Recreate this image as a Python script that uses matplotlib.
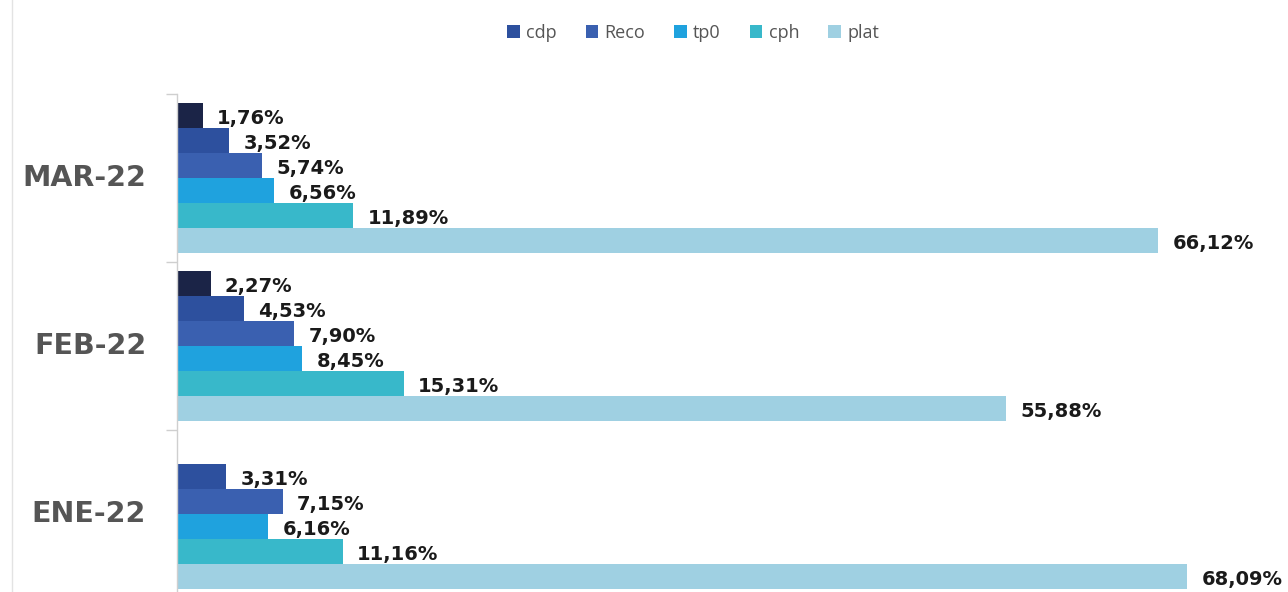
import matplotlib
matplotlib.use("Agg")
import matplotlib.pyplot as plt
from matplotlib.lines import Line2D
from matplotlib.patches import Patch
import numpy as np

categories = ["ENE-22", "FEB-22", "MAR-22"]
series_names = ["", "cdp", "Reco", "tp0", "cph", "plat"]
s_navy = [None, 2.27, 1.76]
s_cdp = [3.31, 4.53, 3.52]
s_reco = [7.15, 7.90, 5.74]
s_tp0 = [6.16, 8.45, 6.56]
s_cph = [11.16, 15.31, 11.89]
s_plat = [68.09, 55.88, 66.12]
series_values = [s_navy, s_cdp, s_reco, s_tp0, s_cph, s_plat]
colors = ["#1b2447", "#2d509e", "#3a60b0", "#1fa2de", "#38b8ca", "#9fd0e2"]

plt.rcParams['font.family'] = ['DejaVu Sans']

fig = plt.figure(figsize=(12.88, 5.92), dpi=100)
ax = fig.add_axes([177/1288, 0.0, (1277-177)/1288, (592-94)/592])

h = 25/168
y = np.arange(len(categories))
for k, (name, vals, c) in enumerate(zip(series_names, series_values, colors)):
    off = (2.5 - k) * h
    for i, v in enumerate(vals):
        if v is None:
            continue
        ax.barh(y[i] + off, v, height=h, color=c, edgecolor='none')
        ax.text(v + 0.95, y[i] + off - 0.02, f"{v:.2f}%".replace('.', ','),
                va='center', ha='left', fontsize=14, fontweight='bold',
                color='#1a1a1a')

ax.set_xlim(0, 1100/14.84)
ax.set_ylim(2.5 - (592-94)/168, 2.5)
ax.set_xticks([])
ax.set_yticks([0.5, 1.5, 2.5])
ax.set_yticklabels([])
ax.tick_params(axis='y', direction='out', length=8, color='#cfcfcf', width=1)
for yc, lab in zip(y, categories):
    ax.text(-0.028, yc, lab, transform=ax.get_yaxis_transform(), ha='right',
            va='center', fontsize=20.5, fontweight='bold', color='#555555')
for s in ['top', 'right', 'bottom']:
    ax.spines[s].set_visible(False)
ax.spines['left'].set_color('#cfcfcf')
ax.spines['left'].set_linewidth(1)

handles = [Patch(facecolor=c, edgecolor='none', label=n)
           for n, c in zip(series_names[1:], colors[1:])]
leg = fig.legend(handles=handles, loc='center', bbox_to_anchor=(693/1288, 1-33/592),
                 ncol=5, frameon=False, handlelength=0.7,
                 handleheight=0.7, handletextpad=0.35, columnspacing=1.6,
                 prop={'family': 'Open Sans', 'size': 13})
for t in leg.get_texts():
    t.set_color('#555555')

fig.add_artist(Line2D([12/1288, 12/1288], [0, 1], transform=fig.transFigure,
                      color='#e3e3e3', linewidth=1))

fig.savefig("out.png", dpi=100)
